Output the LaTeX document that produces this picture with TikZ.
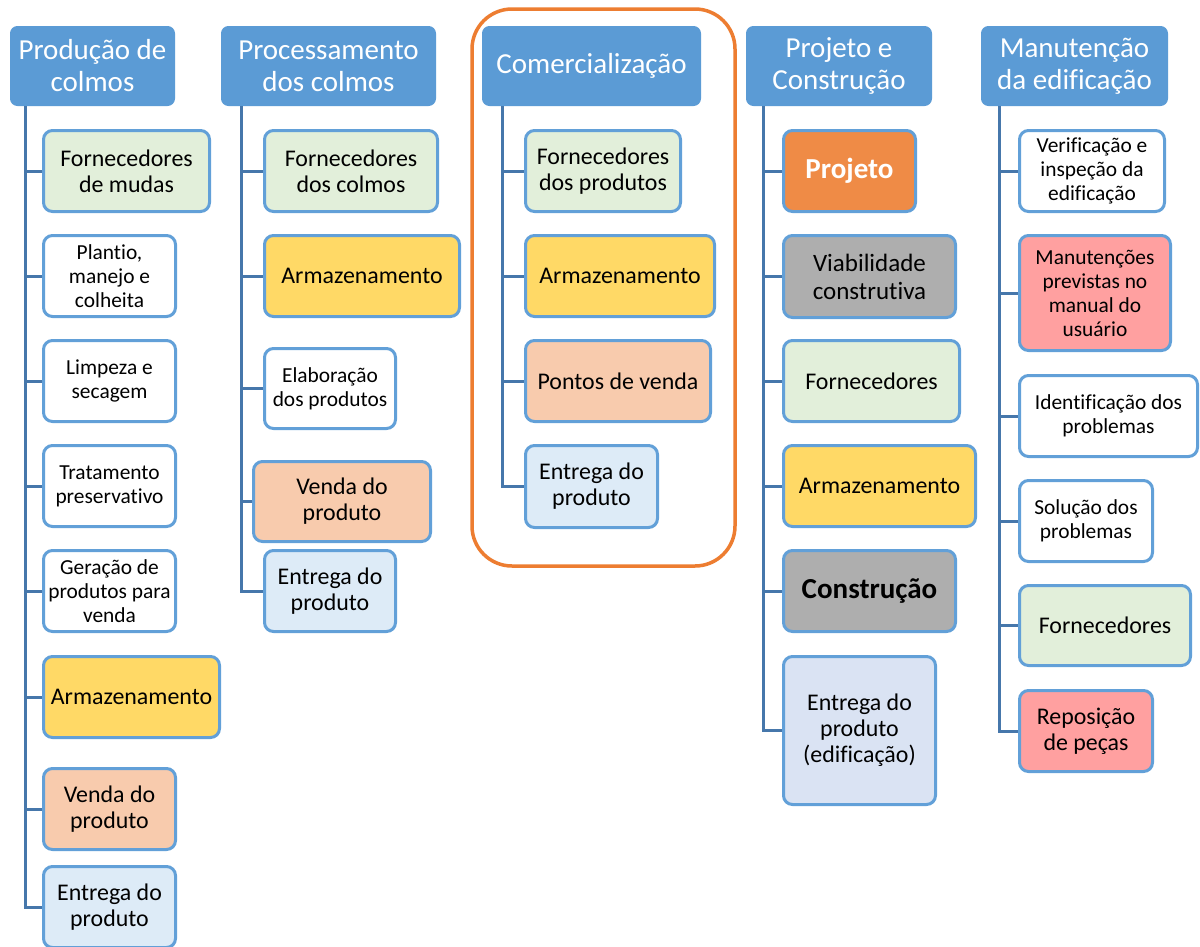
\documentclass[tikz,border=0pt]{standalone}
\usepackage{fontspec}
\setmainfont{Carlito}[Ligatures=CommonOff]
\definecolor{hdrblue}{HTML}{5B9BD5}
\definecolor{cardline}{HTML}{62A0D8}
\definecolor{connblue}{HTML}{4677AB}
\definecolor{fillgreen}{HTML}{E2EFDA}
\definecolor{fillyellow}{HTML}{FFD966}
\definecolor{fillpeach}{HTML}{F8CBAD}
\definecolor{fillblue}{HTML}{DDEBF7}
\definecolor{filllav}{HTML}{DAE3F3}
\definecolor{fillorange}{HTML}{EF8B46}
\definecolor{fillgray}{HTML}{AEAEAE}
\definecolor{fillpink}{HTML}{FFA0A0}
\definecolor{frameorange}{HTML}{ED7D31}
\tikzset{
  hdr/.style={draw=hdrblue, fill=hdrblue, line width=3pt, rounded corners=6pt,
    text=white, font=\fontsize{29}{32}\selectfont, align=center, inner sep=0pt},
  card/.style={draw=cardline, fill=white, line width=3pt, rounded corners=9pt,
    align=center, inner sep=0pt, text=black, font=\fontsize{23.9}{26}\selectfont},
  cardsm/.style={card, font=\fontsize{21.4}{24}\selectfont},
  cardbig/.style={card, font=\fontsize{29}{32}\bfseries\selectfont},
  fgreen/.style={fill=fillgreen},
  fyellow/.style={fill=fillyellow},
  fpeach/.style={fill=fillpeach},
  fblue/.style={fill=fillblue},
  flav/.style={fill=filllav},
  forange/.style={fill=fillorange, text=white},
  fgray/.style={fill=fillgray},
  fpink/.style={fill=fillpink},
  conn/.style={draw=connblue, line width=3pt},
  groupframe/.style={draw=frameorange, line width=3.5pt, rounded corners=40pt},
}
% \cardat{name}{style}{x1}{y1}{x2}{y2}{text}: box given by its outer edges
\newcommand\cardat[7]{%
  \node[#2, minimum width={(#5-#3-3)*1pt}, minimum height={(#6-#4-3)*1pt}]
    (#1) at ({(#3+#5)/2},{(#4+#6)/2}) {#7};}
\begin{document}
\begin{tikzpicture}[x=1pt,y=-1pt]
\useasboundingbox[fill=white] (0,0) rectangle (1200,946);

% group frame around the commercialisation branch
\draw[groupframe] (472,9) rectangle (735,566);

% ---- Produção de colmos
\cardat{a1}{hdr}{10}{26}{175}{106}{Produção de\\colmos}
\cardat{a2}{card,fgreen}{42}{129}{211}{213}{Fornecedores\\de mudas}
\cardat{a3}{cardsm}{42}{234}{177}{318}{Plantio,\\manejo e\\colheita}
\cardat{a4}{cardsm}{42}{339}{177}{423}{Limpeza e\\secagem}
\cardat{a5}{cardsm}{42}{444}{177}{528}{Tratamento\\preservativo}
\cardat{a6}{cardsm}{42}{549}{177}{633}{Geração de\\produtos para\\venda}
\cardat{a7}{card,fyellow}{42}{655}{221}{739}{Armazenamento}
\cardat{a8}{card,fpeach}{42}{767}{177}{851}{Venda do\\produto}
\cardat{a9}{card,fblue}{42}{865}{177}{949}{Entrega do\\produto}
\coordinate (ta) at ([xshift=15pt]a1.south west);
\foreach \n in {2,...,9} \draw[conn] (ta) |- (a\n.west);

% ---- Processamento dos colmos
\cardat{b1}{hdr}{221}{26}{436}{106}{Processamento\\dos colmos}
\cardat{b2}{card,fgreen}{263}{129}{439}{213}{Fornecedores\\dos colmos}
\cardat{b3}{card,fyellow}{263}{234}{461}{318}{Armazenamento}
\cardat{b4}{cardsm}{263}{347}{397}{430}{Elaboração\\dos produtos}
\cardat{b5}{card,fpeach}{252}{460}{432}{543}{Venda do\\produto}
\cardat{b6}{card,fblue}{263}{549}{397}{633}{Entrega do\\produto}
\coordinate (tb) at ([xshift=20pt]b1.south west);
\foreach \n in {2,...,6} \draw[conn] (tb) |- (b\n.west);

% ---- Comercialização
\cardat{c1}{hdr}{482}{26}{701}{106}{Comercialização}
\cardat{c2}{card,fgreen}{524}{129}{682}{213}{Fornecedores\\dos produtos}
\cardat{c3}{card,fyellow}{524}{234}{716}{318}{Armazenamento}
\cardat{c4}{card,fpeach}{524}{339}{712}{423}{Pontos de venda}
\cardat{c5}{card,fblue}{524}{444}{659}{529}{Entrega do\\produto}
\coordinate (tc) at ([xshift=20pt]c1.south west);
\foreach \n in {2,...,5} \draw[conn] (tc) |- (c\n.west);

% ---- Projeto e Construção
\cardat{d1}{hdr}{746}{26}{932}{106}{Projeto e\\Construção}
\cardat{d2}{cardbig,forange}{782}{129}{917}{213}{Projeto}
\cardat{d3}{card,fgray,font=\fontsize{25}{28}\selectfont}{782}{234}{957}{319}{Viabilidade\\construtiva}
\cardat{d4}{card,fgreen}{782}{339}{961}{423}{Fornecedores}
\cardat{d5}{card,fyellow}{782}{444}{977}{528}{Armazenamento}
\cardat{d6}{cardbig,fgray}{782}{549}{957}{633}{Construção}
\cardat{d7}{card,flav}{782}{655}{937}{806}{Entrega do\\produto\\(edificação)}
\coordinate (td) at ([xshift=17pt]d1.south west);
\foreach \n in {2,...,7} \draw[conn] (td) |- (d\n.west);

% ---- Manutenção da edificação
\cardat{e1}{hdr}{981}{26}{1168}{106}{Manutenção\\da edificação}
\cardat{e2}{cardsm}{1018}{129}{1166}{213}{Verificação e\\inspeção da\\edificação}
\cardat{e3}{cardsm,fpink}{1018}{234}{1172}{352}{Manutenções\\previstas no\\manual do\\usuário}
\cardat{e4}{cardsm}{1018}{374}{1199}{458}{Identificação dos\\problemas}
\cardat{e5}{cardsm}{1018}{479}{1154}{563}{Solução dos\\problemas}
\cardat{e6}{card,fgreen}{1018}{584}{1192}{667}{Fornecedores}
\cardat{e7}{card,fpink}{1018}{689}{1154}{773}{Reposição\\de peças}
\coordinate (te) at ([xshift=18pt]e1.south west);
\foreach \n in {2,...,7} \draw[conn] (te) |- (e\n.west);
\end{tikzpicture}
\end{document}
